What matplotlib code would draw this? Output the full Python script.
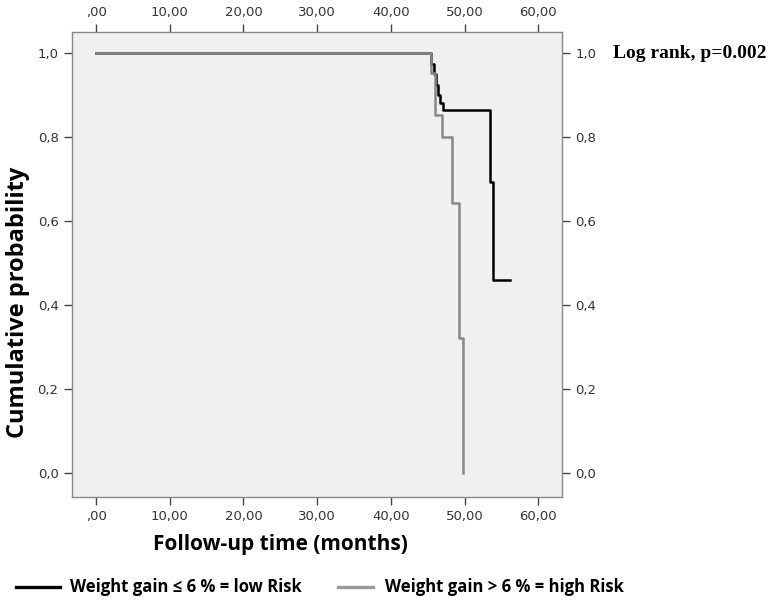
import matplotlib
matplotlib.use("Agg")
import matplotlib.pyplot as plt
from matplotlib.lines import Line2D
from matplotlib.ticker import FuncFormatter

# step points (time in months, survival after the step)
low_time = [0.0, 45.5, 45.8, 46.1, 46.4, 46.7, 47.0, 53.5, 53.9, 56.2]
low_surv = [1.0, 0.975, 0.95, 0.925, 0.90, 0.882, 0.865, 0.692, 0.46, 0.46]
high_time = [0.0, 45.4, 46.0, 46.9, 48.3, 49.2, 49.8]
high_surv = [1.0, 0.953, 0.853, 0.801, 0.643, 0.321, 0.0]

x_ticks = [0, 10, 20, 30, 40, 50, 60]
y_ticks = [0.0, 0.2, 0.4, 0.6, 0.8, 1.0]
legend_labels = ["Weight gain \u2264 6 % = low Risk", "Weight gain > 6 % = high Risk"]
annotation = "Log rank, p=0.002"


def xfmt(v, pos):
    s = f"{v:.2f}".replace(".", ",")
    return s[1:] if s.startswith("0,") else s


def yfmt(v, pos):
    return f"{v:.1f}".replace(".", ",")


W, H = 773, 604
fig = plt.figure(figsize=(W / 100, H / 100), dpi=100)
ax = fig.add_axes([71.7 / W, 1 - 496.7 / H, (562 - 71.7) / W, (496.7 - 31.7) / H])
ax.set_facecolor("#f0f0f0")

ax.step(low_time, low_surv, where="post", color="black", lw=1.8)
ax.step(high_time, high_surv, where="post", color="#888888", lw=1.8)

ax.set_xlim(-3.3, 63.2)
ax.set_ylim(-0.056, 1.051)
ax.set_xticks(x_ticks)
ax.set_yticks(y_ticks)
ax.xaxis.set_major_formatter(FuncFormatter(xfmt))
ax.yaxis.set_major_formatter(FuncFormatter(yfmt))
ax.tick_params(axis="both", which="both", top=True, right=True,
               labeltop=True, labelright=True, direction="out",
               length=6, width=1, color="#444444", labelcolor="#333333",
               labelsize=9.5)
for sp in ax.spines.values():
    sp.set_color("#888888")
    sp.set_linewidth(1)

ax.set_xlabel("Follow-up time (months)", fontsize=15, fontweight="bold",
              family="Open Sans")
ax.xaxis.set_label_coords((280 - 71.7) / 490.3, -0.08)
ax.set_ylabel("Cumulative probability", fontsize=17, fontweight="bold",
              family="Open Sans")
ax.yaxis.set_label_coords((30 - 71.7) / 490.3, (496.7 - 302) / 465)

fig.text(613 / W, 1 - 53 / H, annotation, family="Liberation Serif",
         fontweight="bold", fontsize=14, va="center")

# legend drawn by hand below the plot
leg_y = 1 - 587 / H
legend_colors = ["black", "#999999"]
line_x = [(16, 60), (338, 373)]
text_x = [70, 385]
for (x0, x1), tx, col, lab in zip(line_x, text_x, legend_colors, legend_labels):
    fig.add_artist(Line2D([x0 / W, x1 / W], [leg_y, leg_y], color=col, lw=2.4,
                          transform=fig.transFigure))
    fig.text(tx / W, leg_y, lab, family=["Open Sans", "DejaVu Sans"],
             fontweight="bold", fontsize=12, va="center")

fig.savefig("out.png", dpi=100)
